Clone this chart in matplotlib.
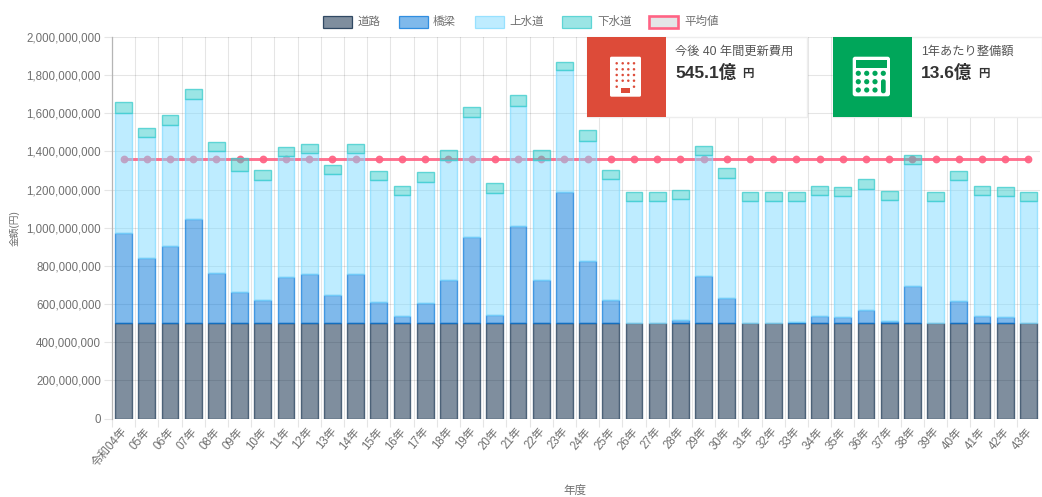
import numpy as np
import matplotlib
matplotlib.use("Agg")
import matplotlib.pyplot as plt
from matplotlib.colors import to_rgba
from matplotlib.patches import Rectangle, FancyBboxPatch, Circle

plt.rcParams['font.family'] = ['Liberation Sans', 'Noto Sans CJK JP', 'DejaVu Sans']

labels = ['令和04年'] + [f'{i:02d}年' for i in range(5, 44)]
road = [500] * 40
bridge = [470,340,405,545,265,165,120,240,255,148,255,112,35,105,227,450,45,510,227,685,
          325,120,0,0,15,245,132,0,0,5,35,30,70,10,197,0,117,35,30,0]
water = [630,635,635,630,635,635,630,635,635,632,635,638,635,635,628,630,635,630,628,640,
         630,635,640,640,635,635,628,640,640,635,635,635,635,635,638,640,633,635,635,640]
sewer = [60,50,50,55,50,65,55,50,50,50,50,45,50,50,55,55,55,55,55,45,
         55,50,50,50,50,50,55,50,50,50,50,50,50,50,45,50,50,50,50,50]
average = [1363] * 40
series = [('道路', road, '#001F3F', .6), ('橋梁', bridge, '#0074D9', .65),
          ('上水道', water, '#7FDBFF', .7), ('下水道', sewer, '#39CCCC', .75)]
W, H = 1042, 497
GREY = '#707070'
fig = plt.figure(figsize=(W / 100, H / 100), dpi=100)
L, R, T, B = 112, 1040, 37, 418.5
ax = fig.add_axes([L / W, 1 - B / H, (R - L) / W, (B - T) / H])
x = np.arange(40)
scale = 1e6
ax.plot(x, np.array(average) * scale, color='#FF6384', lw=2.1, marker='o', ms=4.6, zorder=2, alpha=.9)
bottom = np.zeros(40)
for name, vals, col, ea in series:
    v = np.array(vals) * scale
    keep = v > 0
    ax.bar(x[keep], v[keep], 0.72, bottom=bottom[keep], color=to_rgba(col, .5),
           edgecolor=to_rgba(col, ea), linewidth=1.0, zorder=3)
    bottom += v
ax.set_xlim(-.5, 39.5)
ax.set_ylim(0, 2e9)
ax.set_yticks(np.arange(0, 2.01e9, 2e8))
ax.set_yticklabels([f'{int(v):,}' for v in np.arange(0, 2000000001, 200000000)], fontsize=8.3, color=GREY)
ax.set_xticks(x - .5, minor=False)
ax.set_xticklabels([''] * 40)
ax.tick_params(axis='both', length=5.8, width=.8, color='#E5E5E5', pad=2)
ax.grid(True, color='#000000', alpha=.1, lw=.8, zorder=0)
ax.set_axisbelow(True)
for s in ['top', 'right', 'bottom']:
    ax.spines[s].set_visible(False)
ax.spines['left'].set_color('#B5B5B5')
ax.spines['left'].set_linewidth(.9)
ax.axhline(0, color='#000000', alpha=.1, lw=.8)
for i, lab in enumerate(labels):
    ax.annotate(lab, (i, 0), xycoords=('data', 'axes fraction'), xytext=(-2, -5), textcoords='offset points',
                rotation=50, rotation_mode='anchor', ha='right', va='top', fontsize=8.3, color=GREY)

ov = fig.add_axes([0, 0, 1, 1], zorder=5)
ov.set_xlim(0, W); ov.set_ylim(H, 0); ov.axis('off'); ov.patch.set_alpha(0)

# legend
lg = [(323, 352, '道路', '#001F3F', 358), (399, 428, '橋梁', '#0074D9', 433),
      (475, 504, '上水道', '#7FDBFF', 509), (562, 591, '下水道', '#39CCCC', 597)]
for x0, x1, name, col, tx in lg:
    ov.add_patch(Rectangle((x0, 15.5), x1 - x0, 12, fc=to_rgba(col, .5), ec=to_rgba(col, .75), lw=.9))
    ov.text(tx, 22, name, fontsize=8.3, color=GREY, va='center', ha='left')
ov.add_patch(Rectangle((649, 15.5), 29, 12, fc='#E4E5E7', ec='#FF6384', lw=1.9))
ov.text(684, 22, '平均値', fontsize=8.3, color=GREY, va='center', ha='left')

# axis titles
ov.text(15, 228, '金額(円)', fontsize=7, color=GREY, rotation=90, ha='center', va='center')
ov.text(575, 491, '年度', fontsize=8.3, color=GREY, ha='center', va='center')

# info cards
def card(x0, x1, accent, acc_w, title, big):
    ov.add_patch(Rectangle((x0 - .5, 37), x1 - x0 + .5, 80, fc='white', ec='#EDEDED', lw=1))
    ov.add_patch(Rectangle((x0, 37), acc_w, 80, fc=accent, ec='none'))
    tx = x0 + acc_w + 9
    ov.text(tx, 51.5, title, fontsize=8.8, color='#555555', va='center', ha='left')
    t = ov.text(tx, 72, big, fontsize=12.5, color='#333333', fontweight='bold', va='center', ha='left')
    fig.canvas.draw()
    bb = t.get_window_extent()
    ov.text(bb.x1 + 6, 74, '円', fontsize=8.3, color='#333333', fontweight='bold', va='center', ha='left')

card(587, 807, '#DD4B39', 79, '今後 40 年間更新費用', '545.1億')
card(833, 1042, '#00A65A', 79, '1年あたり整備額', '13.6億')

# building icon
red, green = '#DD4B39', '#00A65A'
ov.add_patch(FancyBboxPatch((610, 56.7), 31, 40, boxstyle='round,pad=0,rounding_size=1.5', fc='white', ec='none'))
for cy in (63.3, 69.3, 75, 80.7):
    for cx in (616.7, 622.7, 628.3, 634):
        ov.add_patch(Circle((cx, cy), 1.25, fc=red, ec='none'))
for cx in (616.7, 634):
    ov.add_patch(Circle((cx, 86.7), 1.25, fc=red, ec='none'))
ov.add_patch(Rectangle((620.7, 87.7), 9.3, 5.6, fc=red, ec='none'))

# calculator icon
ov.add_patch(FancyBboxPatch((852.7, 56.7), 37.3, 39.6, boxstyle='round,pad=0,rounding_size=2.5', fc='white', ec='none'))
ov.add_patch(Rectangle((855.7, 60), 31, 7.7, fc=green, ec='none'))
for i, cy in enumerate((73.3, 81.7, 90)):
    for j, cx in enumerate((858.3, 866.7, 875, 883.3)):
        if j == 3 and i > 0:
            continue
        ov.add_patch(Circle((cx, cy), 2.6, fc=green, ec='none'))
ov.add_patch(FancyBboxPatch((881, 79.3), 4.7, 14, boxstyle='round,pad=0,rounding_size=2.2', fc=green, ec='none'))

fig.savefig('out.png', dpi=100)
